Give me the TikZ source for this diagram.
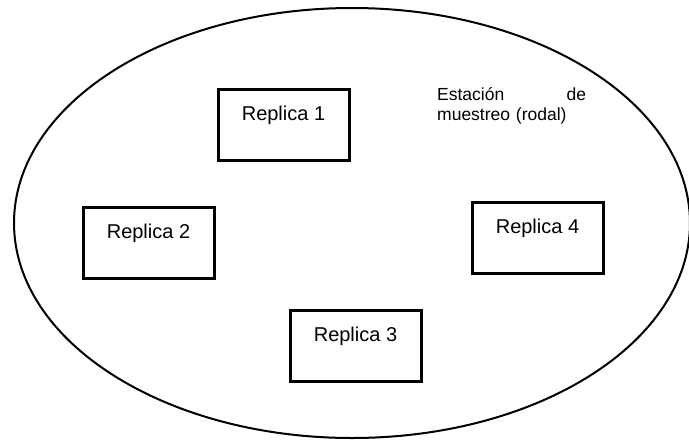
\documentclass[tikz,border=0pt]{standalone}
\usepackage{fontspec}
\setmainfont{Liberation Sans}
\begin{document}
\begin{tikzpicture}[x=1pt,y=-1pt,
  replica/.style={draw=black, line width=3pt, rectangle, inner sep=0pt,
    minimum width=131pt, text height=31pt, text depth=40pt, anchor=north,
    font=\fontsize{20}{24}\selectfont},
  station/.style={inner sep=0pt, anchor=north west, text width=149pt, align=left,
    font=\fontsize{17.5}{20}\selectfont}]
\useasboundingbox (0,0) rectangle (689,440);
\draw[line width=2pt] (352,223) ellipse [x radius=338, y radius=215];
\node[replica] (r1) at (283.5,87.5) {Replica 1};
\node[replica] (r2) at (148.5,205.5) {Replica 2};
\node[replica] (r3) at (355.5,309) {Replica 3};
\node[replica] (r4) at (537.5,200.5) {Replica 4};
\node[station] (st) at (437,87) {Estación\hfill de\\muestreo (rodal)};
\end{tikzpicture}
\end{document}
